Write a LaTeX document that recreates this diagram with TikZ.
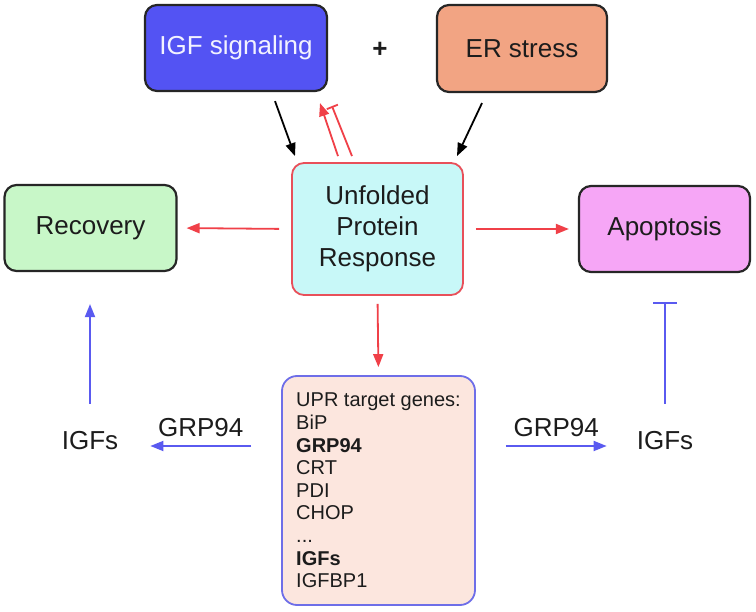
\documentclass[tikz,border=0pt]{standalone}
\usepackage{fontspec}
\setmainfont{Liberation Sans}
\usetikzlibrary{arrows.meta}
\definecolor{igfblue}{HTML}{5353F3}
\definecolor{ersalmon}{HTML}{F2A483}
\definecolor{uprcyan}{HTML}{C8F8F8}
\definecolor{uprred}{HTML}{E8505A}
\definecolor{recgreen}{HTML}{C8F7C8}
\definecolor{apoviolet}{HTML}{F6A6F6}
\definecolor{genesfill}{HTML}{FCE6DE}
\definecolor{genesborder}{HTML}{6E6EE8}
\definecolor{arrred}{HTML}{F04048}
\definecolor{arrblue}{HTML}{5A5AF0}
\definecolor{txt}{HTML}{1C1C1C}
\tikzset{
  bigfont/.style={font=\fontsize{26}{31}\selectfont},
  box/.style={draw=black!85, line width=2.2pt, rounded corners=12pt, align=center, bigfont, text=txt},
  blackarr/.style={draw=black, line width=1.8pt, -{Triangle[length=13pt,width=10pt]}},
  redarr/.style={draw=arrred, line width=1.8pt, -{Triangle[length=13pt,width=10pt]}},
  redbar/.style={draw=arrred, line width=1.8pt, -{Bar[width=12pt,line width=1.8pt]}},
  bluearr/.style={draw=arrblue, line width=1.8pt, -{Triangle[length=13pt,width=10pt]}},
  bluebar/.style={draw=arrblue, line width=1.8pt, -{Bar[width=24pt,line width=1.8pt]}},
  plain/.style={bigfont, text=txt, inner sep=0pt}
}
\begin{document}
\begin{tikzpicture}[x=1pt,y=-1pt]
\useasboundingbox[fill=white] (0,0) rectangle (756,612);

% boxes
\node[box, fill=igfblue, text=blue!5!white, minimum width=182pt, minimum height=86pt] (igf) at (236,48) {IGF signaling};
\node[box, fill=ersalmon, minimum width=170pt, minimum height=87pt] (er) at (522,48.5) {ER stress};
\node[font=\bfseries\fontsize{26}{31}\selectfont, text=txt] (plus) at (380,50) {+};
\node[box, draw=uprred, fill=uprcyan, minimum width=171pt, minimum height=132pt, line width=1.8pt] (upr) at (377.5,229) {Unfolded\\Protein\\Response};
\node[box, fill=recgreen, minimum width=172pt, minimum height=86pt] (rec) at (90.5,228) {Recovery};
\node[box, fill=apoviolet, minimum width=171pt, minimum height=86pt] (apo) at (664.5,229) {Apoptosis};
\node[box, draw=genesborder, fill=genesfill, line width=1.8pt, rounded corners=15pt,
      minimum width=193pt, minimum height=229pt, align=left,
      font=\fontsize{20}{22.6}\selectfont] (genes) at (378.5,490.5)
  {UPR target genes:\\BiP\\\textbf{GRP94}\\CRT\\PDI\\CHOP\\...\\\textbf{IGFs}\\IGFBP1};

\node[plain] (igfsL) at (90,441) {IGFs};
\node[plain] (igfsR) at (665,441) {IGFs};

% top connectors
\draw[blackarr] ([shift={(39,9)}]igf.south) -- ([shift={(-82.5,-6)}]upr.north);
\draw[blackarr] ([shift={(-40,10)}]er.south) -- ([shift={(79.5,-6)}]upr.north);
\draw[redarr] ([shift={(-39.5,-6)}]upr.north) -- ([shift={(84,11)}]igf.south);
\draw[redbar] ([shift={(-25.5,-6)}]upr.north) -- ([shift={(96,14)}]igf.south);

% UPR outputs
\draw[redarr, shorten <=12pt, shorten >=9pt] (upr.west) -- (rec.east);
\draw[redarr, shorten <=12pt, shorten >=9pt] (upr.east) -- (apo.west);
\draw[redarr, shorten <=8pt, shorten >=8pt] (upr.south) -- (genes.north);

% lower connectors
\draw[bluearr] ([shift={(-30,-44.5)}]genes.west) -- node[midway, above=8pt, plain] (grpL) {GRP94} ([shift={(32,5)}]igfsL.east);
\draw[bluearr] ([shift={(30,-44.5)}]genes.east) -- node[midway, above=8pt, plain] (grpR) {GRP94} ([shift={(-30,5)}]igfsR.west);
\draw[bluearr, shorten <=28pt, shorten >=32pt] (igfsL.north) -- (igfsL.north |- rec.south);
\draw[bluebar, shorten <=28pt, shorten >=29pt] (igfsR.north) -- (igfsR.north |- apo.south);
\end{tikzpicture}
\end{document}
